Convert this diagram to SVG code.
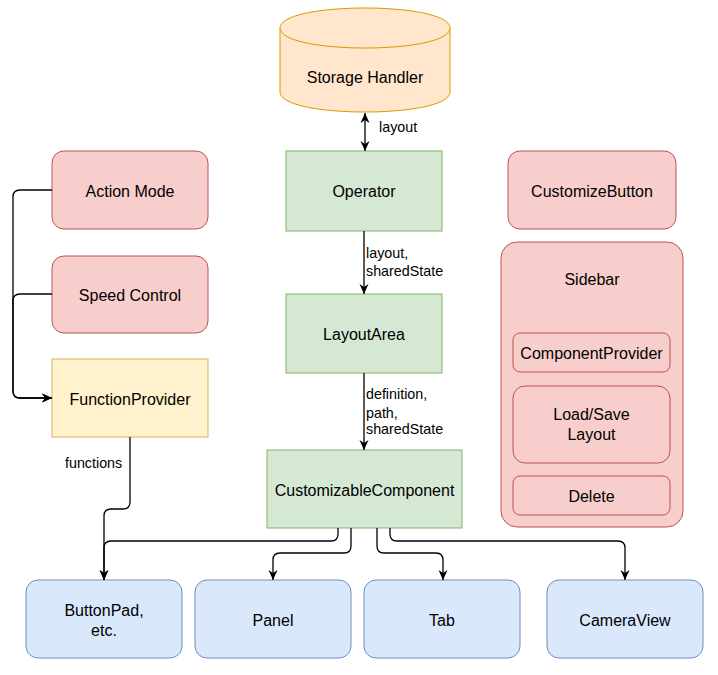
<svg xmlns="http://www.w3.org/2000/svg" width="718" height="675" viewBox="0 0 718 675">
<defs>
<style>
text{font-family:"Liberation Sans",Arial,sans-serif;font-size:16px;fill:#000}
.c{text-anchor:middle}
.l{font-size:14.3px}
.red{fill:#f8cecc;stroke:#b85450;stroke-width:1}
.green{fill:#d5e8d4;stroke:#82b366;stroke-width:1}
.blue{fill:#dae8fc;stroke:#6c8ebf;stroke-width:1}
.yellow{fill:#fff2cc;stroke:#d6b656;stroke-width:1}
.orange{fill:#ffe6cc;stroke:#d79b00;stroke-width:1}
.e{fill:none;stroke:#000;stroke-width:1.3}
</style>
<marker id="arr" viewBox="0 0 10 10" refX="10" refY="5" markerWidth="10" markerHeight="10" markerUnits="userSpaceOnUse" orient="auto-start-reverse">
<path d="M0,0.5 L10,5 L0,9.5 L3,5 Z" fill="#000"/>
</marker>
</defs>
<rect width="718" height="675" fill="#fff"/>

<g id="storage">
<path class="orange" d="M280,28 C280,1.33 450,1.33 450,28 L450,92 C450,118.67 280,118.67 280,92 Z"/>
<path class="orange" fill="none" d="M280,28 C280,54.67 450,54.67 450,28"/>
<text class="c" x="365" y="83">Storage Handler</text>
</g>

<g id="operator">
<rect class="green" x="286" y="151" width="156" height="80"/>
<text class="c" x="364" y="197">Operator</text>
</g>
<g id="layoutarea">
<rect class="green" x="286" y="294" width="156" height="79"/>
<text class="c" x="364" y="340">LayoutArea</text>
</g>
<g id="customizable">
<rect class="green" x="267" y="450" width="195" height="78"/>
<text class="c" x="364.5" y="496">CustomizableComponent</text>
</g>

<g id="actionmode">
<rect class="red" x="52" y="151" width="156" height="78" rx="12"/>
<text class="c" x="130" y="197">Action Mode</text>
</g>
<g id="speedcontrol">
<rect class="red" x="52" y="256" width="156" height="77" rx="12"/>
<text class="c" x="130" y="301">Speed Control</text>
</g>
<g id="functionprovider">
<rect class="yellow" x="52" y="359" width="156" height="78"/>
<text class="c" x="130" y="405">FunctionProvider</text>
</g>

<g id="customizebutton">
<rect class="red" x="508" y="151" width="168" height="78" rx="12"/>
<text class="c" x="592" y="197">CustomizeButton</text>
</g>
<g id="sidebar">
<rect class="red" x="501" y="242" width="182" height="285" rx="16"/>
<text class="c" x="592" y="285">Sidebar</text>
</g>
<g id="componentprovider">
<rect class="red" x="513" y="333" width="157" height="39" rx="7"/>
<text class="c" x="591.5" y="359">ComponentProvider</text>
</g>
<g id="loadsave">
<rect class="red" x="513" y="386" width="157" height="77" rx="12"/>
<text class="c" x="591.5" y="420">Load/Save</text>
<text class="c" x="591.5" y="440">Layout</text>
</g>
<g id="delete">
<rect class="red" x="513" y="476" width="157" height="39" rx="7"/>
<text class="c" x="591.5" y="502">Delete</text>
</g>

<g id="buttonpad">
<rect class="blue" x="26" y="580" width="156" height="78" rx="12"/>
<text class="c" x="104" y="616">ButtonPad,</text>
<text class="c" x="104" y="636">etc.</text>
</g>
<g id="panel">
<rect class="blue" x="195" y="580" width="156" height="78" rx="12"/>
<text class="c" x="273" y="626">Panel</text>
</g>
<g id="tab">
<rect class="blue" x="364" y="580" width="156" height="78" rx="12"/>
<text class="c" x="442" y="626">Tab</text>
</g>
<g id="cameraview">
<rect class="blue" x="547" y="580" width="156" height="78" rx="12"/>
<text class="c" x="625" y="626">CameraView</text>
</g>

<g id="connectors">
<path class="e" d="M365,113 L365,151" marker-start="url(#arr)" marker-end="url(#arr)"/>
<text class="l" x="379" y="132">layout</text>
<path class="e" d="M364,231 L364,294" marker-end="url(#arr)"/>
<text class="l" x="366" y="258">layout,</text>
<text class="l" x="366" y="276">sharedState</text>
<path class="e" d="M364,373 L364,450" marker-end="url(#arr)"/>
<text class="l" x="366" y="399">definition,</text>
<text class="l" x="366" y="418">path,</text>
<text class="l" x="366" y="434">sharedState</text>
<path class="e" d="M52,190 L20,190 Q13,190 13,197 L13,391 Q13,398 20,398 L52,398" marker-end="url(#arr)"/>
<path class="e" d="M52,294 L20,294 Q13,294 13,301 L13,391 Q13,398 20,398 L52,398" marker-end="url(#arr)"/>
<path class="e" d="M130,437 L130,502 Q130,509 123,509 L111,509 Q104,509 104,516 L104,580" marker-end="url(#arr)"/>
<text class="l" x="65" y="468">functions</text>
<path class="e" d="M338,528 L338,534 Q338,541 331,541 L111,541 Q104,541 104,548 L104,580" marker-end="url(#arr)"/>
<path class="e" d="M351,528 L351,546 Q351,553 344,553 L280,553 Q273,553 273,560 L273,580" marker-end="url(#arr)"/>
<path class="e" d="M377,528 L377,546 Q377,553 384,553 L436,553 Q443,553 443,560 L443,580" marker-end="url(#arr)"/>
<path class="e" d="M390,528 L390,534 Q390,541 397,541 L618,541 Q625,541 625,548 L625,580" marker-end="url(#arr)"/>
</g>
</svg>
